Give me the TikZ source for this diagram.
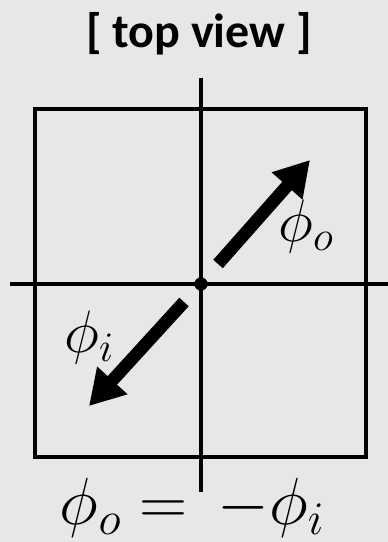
\RequirePackage{fix-cm}
\documentclass[tikz,border=0pt]{standalone}
\usepackage{fontspec}
\setsansfont{Carlito}
\usepackage{tikz}
\usetikzlibrary{arrows.meta}
\definecolor{ViewBg}{HTML}{E8E6E8}
\definecolor{ViewInk}{HTML}{000000}

\begin{document}
\begin{tikzpicture}[
    x=0.75pt, y=-0.75pt,
    frame/.style={draw=ViewInk, line width=3.6pt},
    axis/.style={draw=ViewInk, line width=3.6pt},
    spin/.style={-{Triangle[length=26pt, width=29pt]}, line width=9.5pt, color=ViewInk},
    title/.style={font=\sffamily\bfseries\fontsize{36}{40}\selectfont, text=ViewInk},
    lbl/.style={font=\fontsize{45}{49}\selectfont, text=ViewInk}
  ]

  \fill[ViewBg] (0,0) rectangle (388,542);
  \useasboundingbox (0,0) rectangle (388,542);

  \node[title] (head) at (199,34) {[ top view ]};

  \draw[frame] (35,109) rectangle (366,457);

  \coordinate (vtop) at (201,78);
  \coordinate (vbot) at (201,492);
  \coordinate (hleft) at (10,284);
  \coordinate (hright) at (388,284);
  \draw[axis] (vtop) -- (vbot);
  \draw[axis] (hleft) -- (hright);

  \node[circle, fill=ViewInk, inner sep=0pt, minimum size=10pt] (centre) at (201,284) {};

  \coordinate (otail) at (218,264);
  \coordinate (otip) at (310,160);
  \coordinate (itail) at (184,302);
  \coordinate (itip) at (89,406);
  \draw[spin] (otail) -- (otip);
  \draw[spin] (itail) -- (itip);

  \node[lbl] (phio) at (306,226) {$\phi_o$};
  \node[lbl] (phii) at (89,337) {$\phi_i$};

  \node[lbl, inner sep=0pt, font=\fontsize{50}{54}\selectfont] (rule) at (192,508) {$\phi_o = \,-\phi_i$};

\end{tikzpicture}
\end{document}
